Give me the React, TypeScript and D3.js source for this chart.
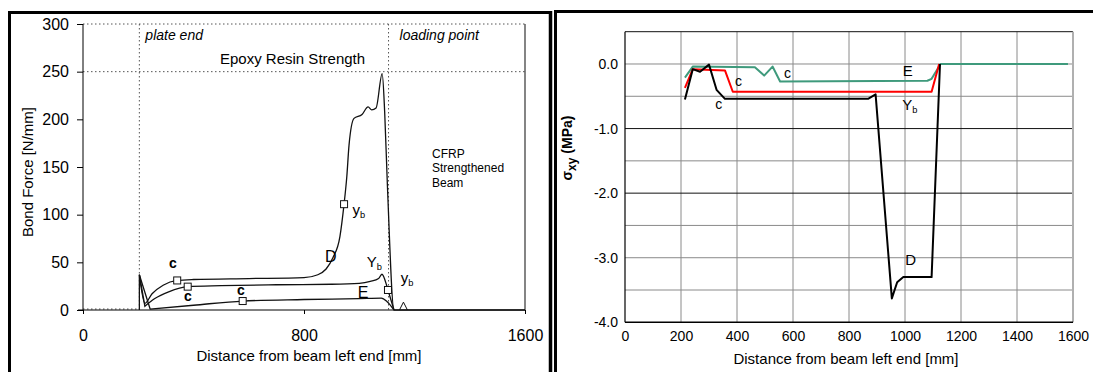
import React, { useEffect, useRef } from "react";
import * as d3 from "d3";

// left panel: bond force along the beam
const bondXTicks = [0, 800, 1600];
const bondYTicks = [0, 50, 100, 150, 200, 250, 300];
const plateEnd = 204;
const loadingPoint = 1106;
const epoxyStrength = 250;

const curveD = [
  [204, 0], [204, 37], [224, 7], [250, 17], [290, 26], [341, 31], [400, 32],
  [600, 33], [800, 34], [850, 37], [880, 43], [905, 55], [930, 77], [945, 111],
  [955, 140], [963, 173], [981, 201], [1010, 205], [1032, 213], [1045, 210],
  [1061, 212], [1083, 248], [1092, 208], [1102, 130], [1126, 0], [1600, 0],
];
const curveYb = [
  [204, 37], [224, 4], [260, 12], [310, 19], [379, 24.5], [500, 25.5],
  [700, 26.5], [900, 27], [1000, 28], [1040, 30], [1070, 33], [1082, 37.5],
  [1099, 26], [1104, 21], [1126, 0],
];
const curveE = [
  [204, 37], [243, 1], [400, 5], [578, 9.4], [800, 11], [1000, 12],
  [1080, 12.5], [1100, 9], [1126, 0],
];
const bondSquares = [[341, 31], [379, 24.5], [578, 9.4], [945, 111], [1104, 21]];
const bondTriangles = [[1160, 3]];

// right panel: shear stress sigma_xy
const shearXTicks = [0, 200, 400, 600, 800, 1000, 1200, 1400, 1600];
const shearYTicks = [0, -1, -2, -3, -4];
const shearBlack = [
  [214, -0.55], [242, -0.08], [268, -0.12], [300, -0.01], [327, -0.4],
  [357, -0.54], [868, -0.54], [895, -0.47], [953, -3.63], [972, -3.38],
  [994, -3.3], [1095, -3.3], [1125, 0],
];
const shearRed = [
  [214, -0.37], [242, -0.08], [357, -0.1], [385, -0.43], [1095, -0.43], [1122, 0],
];
const shearTeal = [
  [214, -0.21], [242, -0.04], [464, -0.05], [497, -0.18], [527, -0.04],
  [554, -0.27], [1080, -0.26], [1095, -0.23], [1127, 0], [1582, 0],
];

const FONT = "'Liberation Sans', Arial, sans-serif";

export default function App() {
  const svgRef = useRef(null);

  useEffect(() => {
    const svg = d3.select(svgRef.current);
    svg.selectAll("*").remove();

    // panel frames
    const frame = svg.append("g").attr("stroke", "#000").attr("fill", "none");
    frame.append("line").attr("x1", 9.5).attr("x2", 9.5).attr("y1", 12).attr("y2", 372).attr("stroke-width", 3);
    frame.append("line").attr("x1", 8).attr("x2", 552).attr("y1", 12.5).attr("y2", 12.5).attr("stroke-width", 3);
    frame.append("line").attr("x1", 550.5).attr("x2", 550.5).attr("y1", 11).attr("y2", 372).attr("stroke-width", 3.5);
    frame.append("line").attr("x1", 555.5).attr("x2", 555.5).attr("y1", 10).attr("y2", 372).attr("stroke-width", 3);
    frame.append("line").attr("x1", 554).attr("x2", 1093).attr("y1", 11.5).attr("y2", 11.5).attr("stroke-width", 3);

    // ---------- left panel ----------
    const xL = d3.scaleLinear().domain([0, 1600]).range([83, 525]);
    const yL = d3.scaleLinear().domain([0, 300]).range([310, 24]);
    const left = svg.append("g").attr("font-family", FONT);

    const dotted = left.append("g").attr("stroke", "#555").attr("stroke-width", 1).attr("stroke-dasharray", "1.5,2.5");
    dotted.append("line").attr("x1", xL(0)).attr("x2", xL(1600)).attr("y1", yL(300)).attr("y2", yL(300));
    dotted.append("line").attr("x1", xL(0)).attr("x2", xL(1600)).attr("y1", yL(epoxyStrength)).attr("y2", yL(epoxyStrength));
    dotted.append("line").attr("x1", xL(plateEnd)).attr("x2", xL(plateEnd)).attr("y1", yL(300)).attr("y2", yL(0));
    dotted.append("line").attr("x1", xL(loadingPoint)).attr("x2", xL(loadingPoint)).attr("y1", yL(300)).attr("y2", yL(0));
    dotted.append("line").attr("x1", xL(0)).attr("x2", xL(plateEnd)).attr("y1", yL(0) - 1).attr("y2", yL(0) - 1);

    left.append("line").attr("x1", xL(1600)).attr("x2", xL(1600)).attr("y1", yL(300)).attr("y2", yL(0))
      .attr("stroke", "#333").attr("stroke-width", 1.2);

    const yAxisL = left.append("g").attr("transform", `translate(${xL(0)},0)`)
      .call(d3.axisLeft(yL).tickValues(bondYTicks).tickSize(6).tickPadding(8).tickFormat(d3.format("d")));
    yAxisL.selectAll("text").style("font-size", "16px").style("font-family", FONT).attr("fill", "#000");
    yAxisL.selectAll("line,path").attr("stroke", "#000");
    yAxisL.select(".domain").attr("d", `M0,${yL(0)}V${yL(300)}`);

    const xAxisL = left.append("g").attr("transform", `translate(0,${yL(0)})`)
      .call(d3.axisBottom(xL).tickValues(bondXTicks).tickSize(4).tickPadding(16).tickFormat(d3.format("d")));
    xAxisL.selectAll("text").style("font-size", "16px").style("font-family", FONT).attr("fill", "#000");
    xAxisL.selectAll("line,path").attr("stroke", "#000");
    xAxisL.select(".domain").attr("d", `M${xL(0) - 5},0H${xL(1600)}`);

    const lineL = d3.line().x((d) => xL(d[0])).y((d) => yL(d[1])).curve(d3.curveMonotoneX);
    const lineStraight = d3.line().x((d) => xL(d[0])).y((d) => yL(d[1]));
    [curveD, curveYb, curveE].forEach((c) => {
      left.append("path").datum(c)
        .attr("d", (d) => {
          // spike segment drawn straight, rest smoothed
          return lineStraight(d.slice(0, 2)) + lineL(d.slice(1)).replace(/^M/, "L");
        })
        .attr("fill", "none").attr("stroke", "#111").attr("stroke-width", 1.3);
    });

    left.append("g").selectAll("rect").data(bondSquares).join("rect")
      .attr("x", (d) => xL(d[0]) - 3.5).attr("y", (d) => yL(d[1]) - 3.5)
      .attr("width", 7).attr("height", 7)
      .attr("fill", "#fff").attr("stroke", "#111").attr("stroke-width", 1);
    left.append("g").selectAll("path").data(bondTriangles).join("path")
      .attr("d", (d) => `M${xL(d[0]) - 4},${yL(0)}L${xL(d[0])},${yL(d[1]) - 5}L${xL(d[0]) + 4},${yL(0)}`)
      .attr("fill", "none").attr("stroke", "#111").attr("stroke-width", 1);

    const txt = (g, x, y, s, opts = {}) =>
      g.append("text").attr("x", x).attr("y", y).attr("font-size", opts.size || 14)
        .attr("font-style", opts.italic ? "italic" : null)
        .attr("font-weight", opts.bold ? "bold" : null)
        .attr("text-anchor", opts.anchor || "start").attr("fill", "#000").text(s);

    txt(left, xL(plateEnd) + 6, 40, "plate end", { italic: true });
    txt(left, xL(loadingPoint) + 11, 40, "loading point", { italic: true });
    txt(left, 220, 64, "Epoxy Resin Strength", { size: 15 });
    txt(left, 432, 158, "CFRP", { size: 12 });
    txt(left, 432, 172, "Strengthened", { size: 12 });
    txt(left, 432, 187, "Beam", { size: 12 });

    txt(left, xL(325), yL(44), "c", { size: 14, anchor: "middle", bold: true });
    txt(left, xL(380), yL(9.4), "c", { size: 14, anchor: "middle", bold: true });
    txt(left, xL(572), yL(15.7), "c", { size: 14, anchor: "middle", bold: true });
    txt(left, xL(876), yL(50), "D", { size: 16 });
    txt(left, xL(995), yL(12.6), "E", { size: 16 });

    const sub = (g, x, y, main, s, size) => {
      const t = g.append("text").attr("x", x).attr("y", y).attr("font-size", size).attr("fill", "#000");
      t.append("tspan").text(main);
      t.append("tspan").attr("dy", 3).attr("font-size", size * 0.62).text(s);
    };
    sub(left, xL(976), yL(100), "y", "b", 15);
    sub(left, xL(1027), yL(45), "Y", "b", 15);
    sub(left, xL(1150), yL(28), "y", "b", 15);

    left.append("text").attr("transform", "translate(33,172) rotate(-90)")
      .attr("text-anchor", "middle").attr("font-size", 15).text("Bond Force [N/mm]");
    left.append("text").attr("x", 309).attr("y", 361)
      .attr("text-anchor", "middle").attr("font-size", 15).text("Distance from beam left end [mm]");

    // ---------- right panel ----------
    const xR = d3.scaleLinear().domain([0, 1600]).range([625, 1073]);
    const yR = d3.scaleLinear().domain([-4, 0.5]).range([322.3, 31.7]);
    const right = svg.append("g").attr("font-family", FONT);

    const grid = right.append("g");
    grid.selectAll("line.v").data(shearXTicks.slice(1, -1)).join("line")
      .attr("x1", (d) => xR(d)).attr("x2", (d) => xR(d)).attr("y1", yR(0.5)).attr("y2", yR(-4))
      .attr("stroke", "#8a8a8a").attr("stroke-width", 1);
    const halfLines = d3.range(-3.5, 0.5, 0.5);
    grid.selectAll("line.h").data(halfLines).join("line")
      .attr("x1", xR(0)).attr("x2", xR(1600)).attr("y1", (d) => yR(d)).attr("y2", (d) => yR(d))
      .attr("stroke", (d) => (d === -1 || d === -2 ? "#111" : "#8a8a8a")).attr("stroke-width", 1);
    grid.append("line").attr("x1", xR(0)).attr("x2", xR(1600)).attr("y1", yR(0.5)).attr("y2", yR(0.5))
      .attr("stroke", "#111").attr("stroke-width", 1);
    grid.append("line").attr("x1", xR(1600)).attr("x2", xR(1600)).attr("y1", yR(0.5)).attr("y2", yR(-4))
      .attr("stroke", "#b0b0b0").attr("stroke-width", 2);

    const yAxisR = right.append("g").attr("transform", `translate(${xR(0)},0)`)
      .call(d3.axisLeft(yR).tickValues(shearYTicks).tickSize(0).tickPadding(7).tickFormat((d) => d.toFixed(1)));
    yAxisR.selectAll("text").style("font-size", "14px").style("font-family", FONT).attr("fill", "#000");
    yAxisR.select(".domain").attr("d", `M0,${yR(0.5)}V${yR(-4)}`).attr("stroke", "#000").attr("stroke-width", 1.2);

    const xAxisR = right.append("g").attr("transform", `translate(0,${yR(-4)})`)
      .call(d3.axisBottom(xR).tickValues(shearXTicks).tickSize(0).tickPadding(9).tickFormat(d3.format("d")));
    xAxisR.selectAll("text").style("font-size", "14px").style("font-family", FONT).attr("fill", "#000");
    xAxisR.select(".domain").attr("d", `M${xR(0)},0H${xR(1600)}`).attr("stroke", "#000").attr("stroke-width", 1.5);

    const lineR = d3.line().x((d) => xR(d[0])).y((d) => yR(d[1]));
    [
      [shearTeal, "#3f9a7c"],
      [shearRed, "#ff0000"],
      [shearBlack, "#000"],
    ].forEach(([data, color]) => {
      right.append("path").datum(data).attr("d", lineR)
        .attr("fill", "none").attr("stroke", color).attr("stroke-width", 2).attr("stroke-linejoin", "round");
    });

    txt(right, xR(405), yR(-0.34), "c", { size: 14, anchor: "middle" });
    txt(right, xR(335), yR(-0.7), "c", { size: 14, anchor: "middle" });
    txt(right, xR(580), yR(-0.22), "c", { size: 14, anchor: "middle" });
    txt(right, xR(1010), yR(-0.19), "E", { size: 15, anchor: "middle" });
    txt(right, xR(1020), yR(-3.11), "D", { size: 15, anchor: "middle" });
    sub(right, xR(990), yR(-0.72), "Y", "b", 15);

    const yt = right.append("text").attr("transform", "translate(572,148) rotate(-90)")
      .attr("text-anchor", "middle").attr("font-size", 14).attr("font-weight", "bold");
    yt.append("tspan").text("σ");
    yt.append("tspan").attr("dy", 4).attr("font-size", 12).text("xy");
    yt.append("tspan").attr("dy", -4).text(" (MPa)");

    right.append("text").attr("x", 846).attr("y", 364)
      .attr("text-anchor", "middle").attr("font-size", 15).text("Distance from beam left end [mm]");
  }, []);

  return (
    <svg
      ref={svgRef}
      width={1093}
      height={372}
      style={{ position: "absolute", left: 0, top: 0, background: "#fff" }}
    />
  );
}
